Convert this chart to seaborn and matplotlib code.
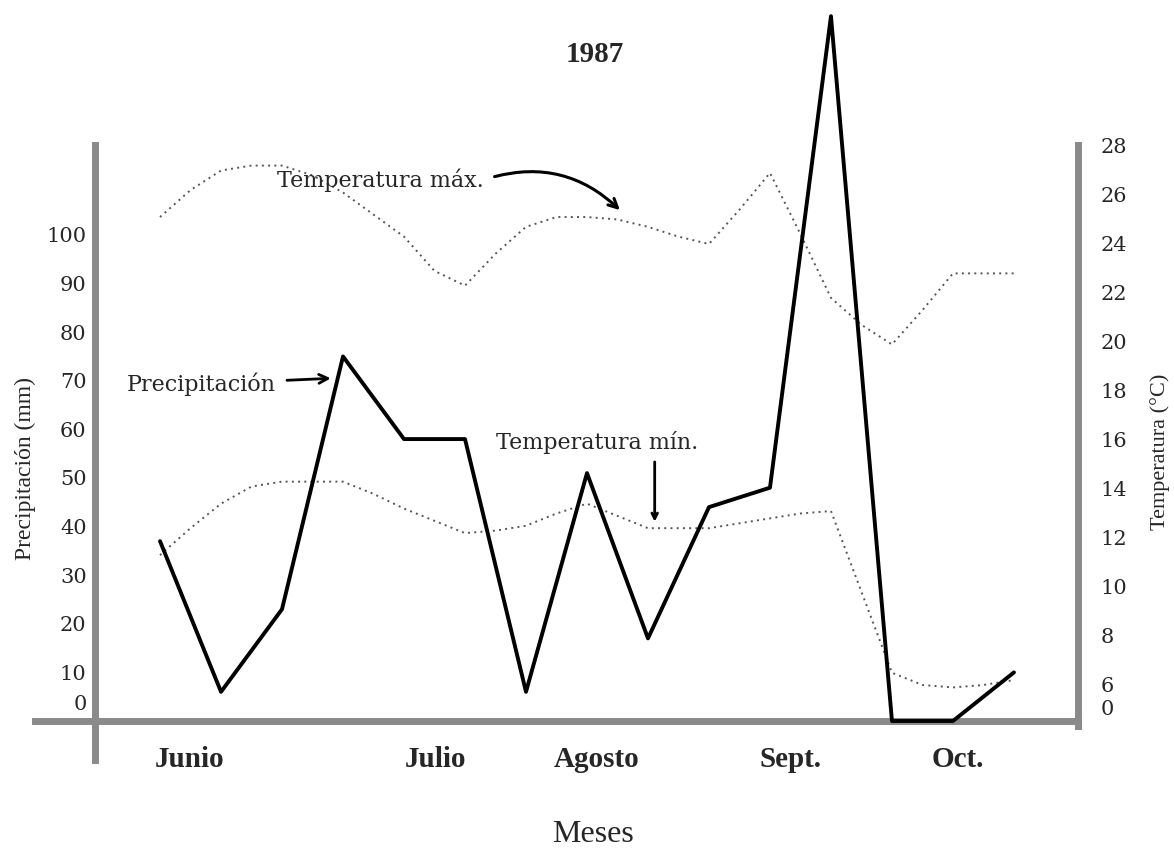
import numpy as np
import pandas as pd
import matplotlib
matplotlib.use('Agg')
import matplotlib.pyplot as plt
import matplotlib.transforms as mtransforms
import seaborn as sns

# ten-day periods, June .. mid October 1987
precip_mm = [37, 6, 23, 75, 58, 58, 6, 51, 17, 44, 48, 145, 0, 0, 10]

# temperatures read every half period
temp_max = [25.1, 26.2, 27.0, 27.2, 27.2, 26.8, 26.1, 25.2, 24.3, 22.9,
            22.3, 23.6, 24.7, 25.1, 25.1, 25.0, 24.7, 24.3, 24.0, 25.4,
            26.9, 24.4, 21.8, 20.7, 19.9, 21.3, 22.8, 22.8, 22.8]
temp_min = [11.3, 12.4, 13.4, 14.1, 14.3, 14.3, 14.3, 13.8, 13.2, 12.7,
            12.2, 12.3, 12.5, 13.0, 13.4, 12.9, 12.4, 12.4, 12.4, 12.6,
            12.8, 13.0, 13.1, 9.8, 6.5, 6.0, 5.9, 6.0, 6.2]

month_labels = ['Junio', 'Julio', 'Agosto', 'Sept.', 'Oct.']
month_pos = [0.49, 4.51, 7.15, 10.33, 13.08]

precip_ticks = [0, 10, 20, 30, 40, 50, 60, 70, 80, 90, 100]
temp_ticks = [6, 8, 10, 12, 14, 16, 18, 20, 22, 24, 26, 28]

df_p = pd.DataFrame({'periodo': np.arange(len(precip_mm)), 'mm': precip_mm})
df_t = pd.DataFrame({'periodo': np.arange(len(temp_max)) / 2,
                     'tmax': temp_max, 'tmin': temp_min})

sns.set_style('white')
plt.rcParams['font.family'] = ['DejaVu Serif']

SPINE = '#8a8a8a'
fig = plt.figure(figsize=(11.74, 8.48), dpi=100)
ax = fig.add_axes([95 / 1174, (848 - 721) / 848, (1078 - 95) / 1174, (721 - 145) / 848])
ax2 = ax.twinx()

t_bottom = 4.53
ax.set_xlim(-1.066, 15.05)
ax.set_ylim(0, 118.5)
ax2.set_ylim(t_bottom, 28.04)

# temperatures (dotted)
for col in ['tmax', 'tmin']:
    sns.lineplot(data=df_t, x='periodo', y=col, ax=ax2, color='#555555',
                 linewidth=1.4, linestyle=(0, (1, 2.2)), sort=False, clip_on=False)

# precipitation (thick solid)
sns.lineplot(data=df_p, x='periodo', y='mm', ax=ax, color='black',
             linewidth=2.8, sort=False, clip_on=False, zorder=5)
ax.set_zorder(ax2.get_zorder() + 1)
ax.patch.set_visible(False)

# spines
for a in (ax, ax2):
    for s in a.spines.values():
        s.set_visible(False)
for s, a in [('left', ax), ('bottom', ax), ('right', ax2)]:
    a.spines[s].set_visible(True)
    a.spines[s].set_color(SPINE)
    a.spines[s].set_linewidth(5)
ax.spines['left'].set_bounds(-8.0, 118.5)
ax.spines['bottom'].set_bounds(-2.05, 15.05)
ax2.spines['right'].set_bounds(4.33, 28.04)

# ticks
ax.set_yticks(precip_ticks)
ax.set_yticklabels([str(v) for v in precip_ticks])
ax.tick_params(axis='y', length=0, pad=6, labelsize=15)
ax2.set_yticks([t_bottom] + temp_ticks)
ax2.set_yticklabels(['0'] + [str(v) for v in temp_ticks])
ax2.tick_params(axis='y', length=0, pad=16, labelsize=15)
ax.set_xticks(month_pos)
ax.set_xticklabels(month_labels, fontfamily='Liberation Serif',
                   fontweight='bold', fontsize=21)
ax.tick_params(axis='x', length=0, pad=18)

# the zero labels sit a little above the baseline
lab0 = ax.get_yticklabels()[0]
lab0.set_transform(lab0.get_transform() + mtransforms.ScaledTranslation(0, 13 / 72, fig.dpi_scale_trans))
lab0r = ax2.get_yticklabels()[0]
lab0r.set_transform(lab0r.get_transform() + mtransforms.ScaledTranslation(0, 10 / 72, fig.dpi_scale_trans))

ax.set_ylabel('')
ax.set_xlabel('')
ax2.set_ylabel('')

fig.text(25 / 1174, 1 - 468 / 848, 'Precipitación (mm)', rotation=90,
         ha='center', va='center', fontfamily='Liberation Serif', fontsize=17)
fig.text(1160 / 1174, 1 - 452 / 848, 'Temperatura (°C)', rotation=90,
         ha='center', va='center', fontfamily='Liberation Serif', fontsize=16)
fig.text(593 / 1174, 1 - 834 / 848, 'Meses', ha='center', va='center',
         fontfamily='Liberation Serif', fontsize=23)
fig.text(595 / 1174, 1 - 55 / 848, '1987', ha='center', va='center',
         fontfamily='Liberation Serif', fontweight='bold', fontsize=21)

# annotations
ax.annotate('Precipitación', xy=(2.8, 70.5), xytext=(0.67, 69.3),
            ha='center', va='center', fontsize=16,
            arrowprops=dict(arrowstyle='->', lw=2, color='black',
                            shrinkA=6, shrinkB=0))
ax.text(7.16, 57.2, 'Temperatura mín.', ha='center', va='center', fontsize=16)
ax.annotate('', xy=(8.11, 41.0), xytext=(8.11, 53.3),
            arrowprops=dict(arrowstyle='->', lw=2, color='black',
                            shrinkA=0, shrinkB=0))
ax.annotate('Temperatura máx.', xy=(7.54, 105.1), xytext=(5.3, 111.3),
            ha='right', va='center', fontsize=16, annotation_clip=False,
            arrowprops=dict(arrowstyle='->', lw=2.2, color='black',
                            shrinkA=6, shrinkB=0, relpos=(1.0, 0.5),
                            connectionstyle='arc3,rad=-0.3'))

fig.savefig('out.png', dpi=100, facecolor='white')
